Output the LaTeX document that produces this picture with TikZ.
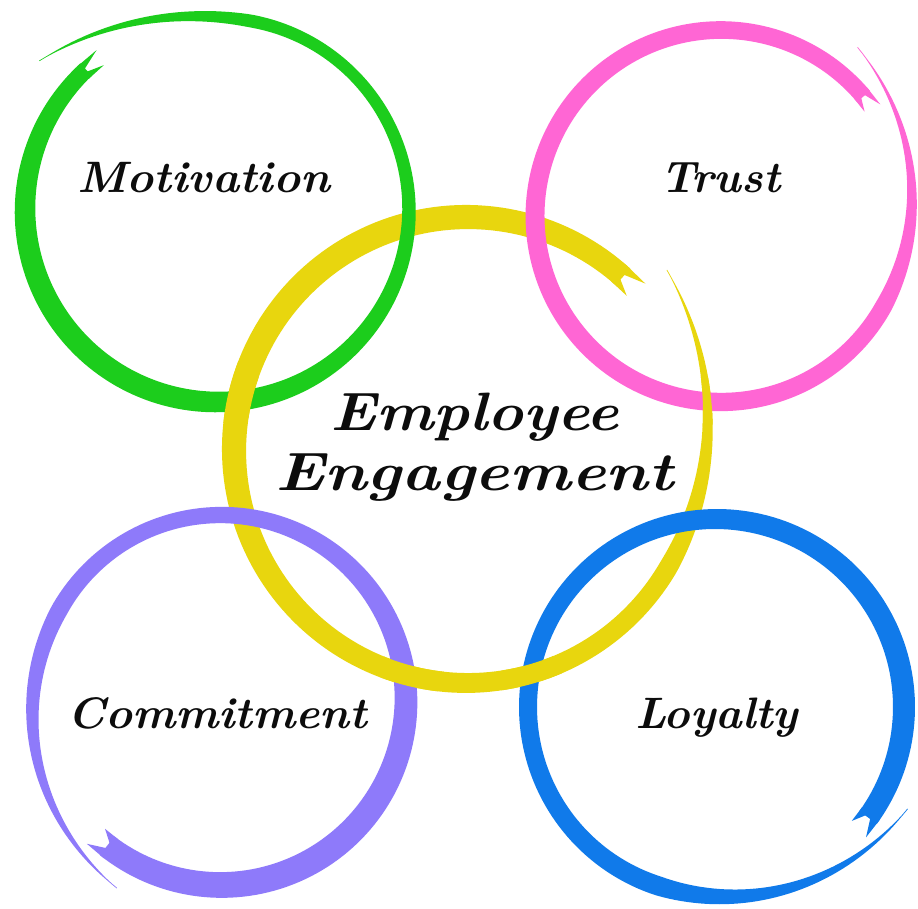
\documentclass[tikz,border=0pt]{standalone}
\usepackage{fontspec}
\usepackage{graphicx}
\definecolor{ringgreen}{RGB}{28,205,28}
\definecolor{ringpink}{RGB}{255,102,212}
\definecolor{ringyellow}{RGB}{232,214,14}
\definecolor{ringpurple}{RGB}{142,122,250}
\definecolor{ringblue}{RGB}{16,122,234}
\definecolor{inkc}{RGB}{12,12,12}
\def\Wamp{0}\def\Wphi{0}
% #1 cx, #2 cy, #3 R, #4 W, #5 a1, #6 a2, #7 taper, #8 spiral, #9 fork depth
\newcommand{\brushring}[9]{%
 \pgfmathsetmacro\bS{#5+#9}%
 \pgfmathsetmacro\bP{#5+#9+1.5}%
 \pgfmathsetmacro\bQ{#5+1}%
 \begin{scope}[declare function={wd(\t)=max(0.7,(#4+\Wamp*cos(\t-\Wphi))*min(1,(#6-\t)/#7)); rr(\t)=#3+#8*(max(0,\t-(#6-#7))/#7)^2;}]
 \fill plot[domain=\bS:#6,samples=200] ({#1+(rr(\x)+0.5*wd(\x))*cos(\x)},{#2-(rr(\x)+0.5*wd(\x))*sin(\x)})
   -- plot[domain=#6:\bS,samples=200] ({#1+(rr(\x)-0.5*wd(\x))*cos(\x)},{#2-(rr(\x)-0.5*wd(\x))*sin(\x)}) -- cycle;
 \fill ({#1+(rr(#5)+0.5*wd(#5))*cos(#5)},{#2-(rr(#5)+0.5*wd(#5))*sin(#5)})
   -- ({#1+(rr(\bP)+0.5*wd(\bP))*cos(\bP)},{#2-(rr(\bP)+0.5*wd(\bP))*sin(\bP)})
   -- ({#1+(rr(\bP)+0.02*wd(\bP))*cos(\bP)},{#2-(rr(\bP)+0.02*wd(\bP))*sin(\bP)}) -- cycle;
 \fill ({#1+(rr(\bQ)-0.5*wd(\bQ))*cos(\bQ)},{#2-(rr(\bQ)-0.5*wd(\bQ))*sin(\bQ)})
   -- ({#1+(rr(\bP)-0.5*wd(\bP))*cos(\bP)},{#2-(rr(\bP)-0.5*wd(\bP))*sin(\bP)})
   -- ({#1+(rr(\bP)-0.02*wd(\bP))*cos(\bP)},{#2-(rr(\bP)-0.02*wd(\bP))*sin(\bP)}) -- cycle;
 \end{scope}}
\newcommand{\yellowring}{\def\Wamp{3}\def\Wphi{135}\brushring{467}{450}{233}{22}{43}{402}{72}{36}{5}}
\tikzset{
  lbl/.style={anchor=base west, inner sep=0pt, text=inkc, font=\fontsize{44}{50}\selectfont\bfseries\itshape},
  bigl/.style={anchor=base west, inner sep=0pt, text=inkc, font=\fontsize{54}{60}\selectfont\bfseries\itshape}
}
\begin{document}
\begin{tikzpicture}[x=1pt,y=-1pt]
\useasboundingbox (0,0) rectangle (918,909);
\fill[white] (0,0) rectangle (918,909);
% yellow (centre)
\begin{scope}[fill=ringyellow]\yellowring\end{scope}
% green
\begin{scope}[fill=ringgreen]\def\Wamp{5}\def\Wphi{225}\brushring{217}{210}{192}{17}{127}{500}{60}{40}{6}\end{scope}
% pink
\begin{scope}[fill=ringpink]\def\Wamp{1}\def\Wphi{200}\brushring{721}{216}{186}{18}{35}{411}{80}{31}{5}\end{scope}
% purple
\begin{scope}[fill=ringpurple]\def\Wamp{5}\def\Wphi{290}\brushring{221}{700}{185}{21}{227}{601}{90}{30}{5}\end{scope}
% blue
\begin{scope}[fill=ringblue]\def\Wamp{2}\def\Wphi{0}\brushring{716}{707}{188}{20}{319}{692}{80}{29}{5}\end{scope}
% yellow over at some crossings
\begin{scope}[fill=ringyellow]
\clip (230,392) circle (32) (700,402) circle (26) (412,672) circle (32) (532,680) circle (32);
\yellowring
\end{scope}
% labels
\node[lbl] (mot) at (77,193) {\resizebox{253pt}{\height}{Motivation}};
\node[lbl] (tru) at (660,193) {\resizebox{120pt}{\height}{Trust}};
\node[bigl] (emp) at (330,430) {\resizebox{288pt}{\height}{Employee}};
\node[bigl] (eng) at (275,490) {\resizebox{398pt}{\height}{Engagement}};
\node[lbl] (com) at (67,728) {\resizebox{300pt}{\height}{Commitment}};
\node[lbl] (loy) at (635,728) {\resizebox{163pt}{\height}{Loyalty}};
\end{tikzpicture}
\end{document}
